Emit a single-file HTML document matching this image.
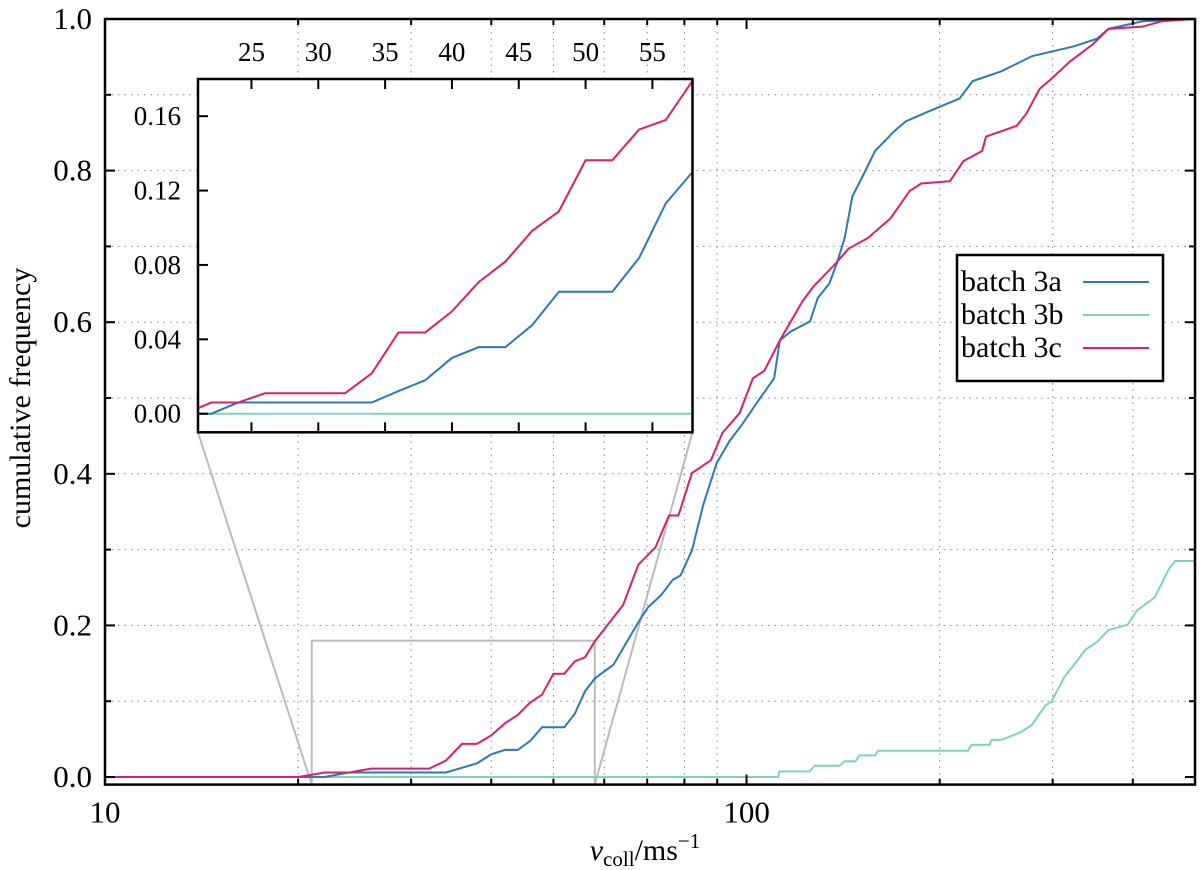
<!DOCTYPE html>
<html><head><meta charset="utf-8"><style>
html,body{margin:0;padding:0;background:#fff;}
svg{display:block;font-family:"Liberation Serif",serif;}
</style></head><body>
<svg id="chart" width="1200" height="870" viewBox="0 0 1200 870" xmlns="http://www.w3.org/2000/svg">
<g id="main"></g>
</svg>
<script>
// ---- data ----
const vA = [10,21,22,24,34,36,38,40,42,44,46,48,50,52,54,56,58,62,67.8,70.2,73.6,76.7,78.9,82.2,85.6,89.8,94.2,98.2,104.4,110.4,112.7,117.3,125.6,129.1,134.6,138.3,142.2,146.2,152.4,158.6,169.9,177.1,192.2,214.7,225.1,249.5,278.6,323.9,351.8,366.6,414.4,500];
const fA = [0,0,0,0.006,0.006,0.0122,0.018,0.030,0.0358,0.0358,0.0476,0.0656,0.0656,0.0656,0.0837,0.1131,0.130,0.148,0.204,0.224,0.240,0.260,0.266,0.299,0.359,0.414,0.444,0.464,0.497,0.526,0.576,0.588,0.601,0.632,0.651,0.678,0.711,0.766,0.796,0.826,0.852,0.865,0.878,0.895,0.918,0.931,0.951,0.964,0.974,0.987,0.997,1.0];
const vB = [10,112,112.5,125.5,127.6,139.6,142.2,147.8,150,158.6,160.4,221.3,224.2,239.2,240.9,249.5,267.4,278.6,292.5,298.5,312.8,323.9,337.3,351.8,366.6,392.6,406.4,432.5,456.4,465.6,500];
const fB = [0,0,0.0075,0.0075,0.0149,0.0149,0.0206,0.0206,0.0285,0.0285,0.0346,0.0346,0.0425,0.0425,0.049,0.049,0.059,0.069,0.095,0.099,0.132,0.148,0.168,0.178,0.194,0.201,0.220,0.237,0.276,0.285,0.285];
const vC = [10,20,21,22,24,26,32,34,36,38,40,42,44,46,48,50,52,54,56,58,64.2,67.8,72.1,75.7,78.3,82.2,88,91.7,97.5,102.3,106.6,112.7,122.3,127.4,136.5,144.2,154.5,167.6,179.5,187.1,207.5,217.8,232.9,236.2,263.6,272.9,286.4,298.5,319.4,346.9,366.6,414.4,443.6,500];
const fC = [0,0,0.003,0.006,0.006,0.011,0.011,0.0217,0.0437,0.0437,0.055,0.0708,0.0818,0.0983,0.1088,0.1363,0.1363,0.1528,0.158,0.179,0.227,0.280,0.303,0.345,0.345,0.401,0.418,0.454,0.480,0.526,0.536,0.576,0.628,0.648,0.674,0.697,0.711,0.737,0.773,0.783,0.786,0.8125,0.826,0.845,0.859,0.875,0.908,0.921,0.944,0.967,0.987,0.990,0.997,1.0];
const seriesNames = ["batch 3a","batch 3b","batch 3c"];
const yTicks = [0,0.2,0.4,0.6,0.8,1.0];
const yTickLabels = ["0.0","0.2","0.4","0.6","0.8","1.0"];
const xGrid = [20,30,40,50,60,70,80,90,200,300,400];
const xTickLabels = ["10","100"];
const xTickVals = [10,100];
const insetXTicks = [25,30,35,40,45,50,55];
const insetYTicks = [0,0.04,0.08,0.12,0.16];
const insetYLabels = ["0.00","0.04","0.08","0.12","0.16"];

// ---- layout ----
const L=105,R=1195,T=19,B=784.6;
const XMIN=10,XMAX=500,YMIN=-0.01,YMAX=1.0;
const sx=v=>L+(R-L)*(Math.log10(v)-Math.log10(XMIN))/(Math.log10(XMAX)-Math.log10(XMIN));
const sy=f=>B-(B-T)*(f-YMIN)/(YMAX-YMIN);
const IL=198,IR=692.5,IT=79,IB=432.3;
const IXMIN=21,IXMAX=58,IYMIN=-0.01,IYMAX=0.18;
const ix=v=>IL+(IR-IL)*(v-IXMIN)/(IXMAX-IXMIN);
const iy=f=>IB-(IB-IT)*(f-IYMIN)/(IYMAX-IYMIN);
const colors=["#2e78b3","#80d2b9","#d9206c"];
const NS="http://www.w3.org/2000/svg";
const svg=document.getElementById('main');
function mk(tag,attrs,parent){const e=document.createElementNS(NS,tag);for(const k in attrs)e.setAttribute(k,attrs[k]);(parent||svg).appendChild(e);return e;}

// grid
for(let k=1;k<=9;k++){const f=k/10;
 const g=mk('line',{x1:L,x2:R,y1:sy(f),y2:sy(f),stroke:'#888','stroke-width':1,'stroke-dasharray':'1.5 5'});
 
 }
xGrid.forEach(v=>{const g=mk('line',{x1:sx(v),x2:sx(v),y1:T,y2:B,stroke:'#888','stroke-width':1,'stroke-dasharray':'1.5 5'});
 
 });

// zoom box + connectors
const zb=mk('path',{d:`M${sx(IXMIN)},${B} L${sx(IXMIN)},${sy(IYMAX)} L${sx(IXMAX)},${sy(IYMAX)} L${sx(IXMAX)},${B}`,fill:'none',stroke:'#bbb','stroke-width':2});


const zc=mk('path',{d:`M${sx(IXMIN)},${B} L${IL},${IB} M${sx(IXMAX)},${B} L${IR},${IB}`,fill:'none',stroke:'#bbb','stroke-width':2});



// main series
const xs=[vA,vB,vC], ys=[fA,fB,fC];
mk('clipPath',{id:'mclip'}).appendChild(document.createElementNS(NS,'rect'));
const mr=document.querySelector('#mclip rect');mr.setAttribute('x',L);mr.setAttribute('y',T-2);mr.setAttribute('width',R-L);mr.setAttribute('height',B-T+2);
[1,0,2].forEach(i=>{const p=mk('polyline',{points:xs[i].map((v,j)=>sx(v)+','+sy(ys[i][j])).join(' '),fill:'none',stroke:colors[i],'stroke-width':2,'clip-path':'url(#mclip)'});
 
 });

// axes frame
const fr=mk('rect',{x:L,y:T,width:R-L,height:B-T,fill:'none',stroke:'#000','stroke-width':2.5});


// y ticks
for(let k=0;k<=10;k++){const f=k/10,len=k%2?6:10;
 mk('line',{x1:L,x2:L+len,y1:sy(f),y2:sy(f),stroke:'#000','stroke-width':2});
 mk('line',{x1:R,x2:R-len,y1:sy(f),y2:sy(f),stroke:'#000','stroke-width':2});}
yTicks.forEach((f,i)=>{const t=mk('text',{x:L-13,y:sy(f)+10,'text-anchor':'end','font-size':31});t.textContent=yTickLabels[i];
 
 });
// x ticks
xTickVals.concat(xGrid).forEach(v=>{const len=xTickVals.includes(v)?10:6;
 mk('line',{x1:sx(v),x2:sx(v),y1:B,y2:B-len,stroke:'#000','stroke-width':2});
 mk('line',{x1:sx(v),x2:sx(v),y1:T,y2:T+len,stroke:'#000','stroke-width':2});});
xTickVals.forEach((v,i)=>{const t=mk('text',{x:sx(v),y:B+38,'text-anchor':'middle','font-size':31});t.textContent=xTickLabels[i];
 
 });

// axis titles
const yt=mk('text',{x:0,y:0,'text-anchor':'middle','font-size':30,transform:'translate(30,398) rotate(-90)'});yt.textContent='cumulative frequency';


const xt=mk('text',{x:645,y:860,'text-anchor':'middle','font-size':30});
xt.innerHTML='<tspan font-style="italic">v</tspan><tspan font-size="21" dy="6">coll</tspan><tspan dy="-6">/ms</tspan><tspan font-size="21" dy="-12">−1</tspan>';



// inset
const ib=mk('rect',{x:IL,y:IT,width:IR-IL,height:IB-IT,fill:'#fff',stroke:'none'});


mk('clipPath',{id:'iclip'}).appendChild(document.createElementNS(NS,'rect'));
const ir=document.querySelector('#iclip rect');ir.setAttribute('x',IL);ir.setAttribute('y',IT);ir.setAttribute('width',IR-IL);ir.setAttribute('height',IB-IT);
[1,0,2].forEach(i=>{const p=mk('polyline',{points:xs[i].map((v,j)=>ix(v)+','+iy(ys[i][j])).join(' '),fill:'none',stroke:colors[i],'stroke-width':2,'clip-path':'url(#iclip)'});
 
 });
const ifr=mk('rect',{x:IL,y:IT,width:IR-IL,height:IB-IT,fill:'none',stroke:'#000','stroke-width':2.5});


insetXTicks.forEach(v=>{
 mk('line',{x1:ix(v),x2:ix(v),y1:IT,y2:IT+10,stroke:'#000','stroke-width':2});
 mk('line',{x1:ix(v),x2:ix(v),y1:IB,y2:IB-10,stroke:'#000','stroke-width':2});
 const t=mk('text',{x:ix(v),y:IT-18,'text-anchor':'middle','font-size':27});t.textContent=String(v);
 
 });
insetYTicks.forEach((f,i)=>{
 mk('line',{x1:IL,x2:IL+10,y1:iy(f),y2:iy(f),stroke:'#000','stroke-width':2});
 const t=mk('text',{x:IL-17,y:iy(f)+9,'text-anchor':'end','font-size':27});t.textContent=insetYLabels[i];
 
 });

// legend
const lg=mk('g',{});


const lb=mk('rect',{x:957,y:255,width:206,height:126,fill:'#fff',stroke:'#000','stroke-width':2.5},lg);


seriesNames.forEach((n,i)=>{const y=282+i*33;
 const e=mk('g',{},lg);
 
 
 const t=mk('text',{x:961,y:y+9,'font-size':30},e);t.textContent=n;
 mk('line',{x1:1083,x2:1149,y1:y,y2:y,stroke:colors[i],'stroke-width':2},e);});
</script>
</body></html>
